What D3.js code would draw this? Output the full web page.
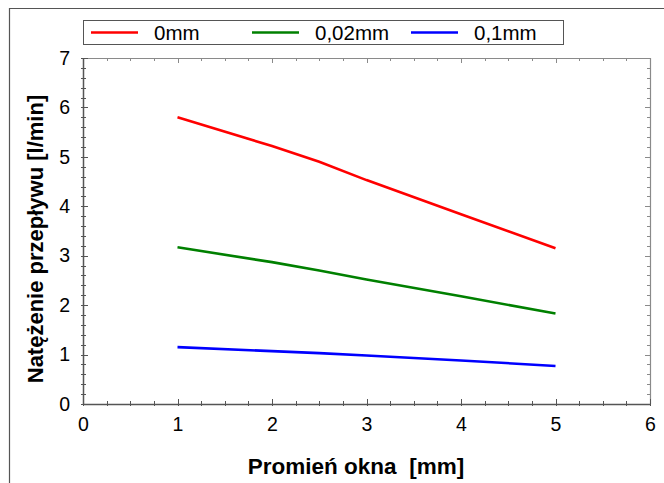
<!DOCTYPE html>
<html><head><meta charset="utf-8">
<script src="https://cdn.jsdelivr.net/npm/d3@7"></script>
<style>body{margin:0;background:#fff}svg{display:block;font-family:"Liberation Sans",Arial,sans-serif}</style>
</head><body>
<script>
const xValues = [1, 2, 2.5, 3, 4, 5];
const series0mm = [5.80, 5.22, 4.90, 4.53, 3.84, 3.15];
const series002mm = [3.17, 2.87, 2.70, 2.52, 2.18, 1.83];
const series01mm = [1.15, 1.07, 1.03, 0.98, 0.88, 0.77];
const seriesNames = ["0mm", "0,02mm", "0,1mm"];
const seriesColors = ["#ff0000", "#008000", "#0000ff"];
const xTicks = [0, 1, 2, 3, 4, 5, 6];
const yTicks = [0, 1, 2, 3, 4, 5, 6, 7];
const xTitle = "Promień okna  [mm]";
const yTitle = "Natężenie przepływu [l/min]";

const W = 664, H = 483;
const m = {l: 83, r: 650, t: 58, b: 404};
const svg = d3.select("body").append("svg").attr("width", W).attr("height", H);

// outer frame
svg.append("path").attr("d", `M9.5,${H+2}V8.5H${W+2}`).attr("fill","none").attr("stroke","#555").attr("stroke-width",1.2);

const x = d3.scaleLinear().domain([0, 6]).range([m.l, m.r]);
const y = d3.scaleLinear().domain([0, 7]).range([m.b, m.t]);

const axisCol = "#555";
// box
svg.append("line").attr("x1", m.l).attr("x2", m.r).attr("y1", m.t+0.5).attr("y2", m.t+0.5).attr("stroke","#8a8a8a").attr("stroke-width",1.2);
svg.append("line").attr("x1", m.r+0.5).attr("x2", m.r+0.5).attr("y1", m.t).attr("y2", m.b).attr("stroke","#8a8a8a").attr("stroke-width",1.2);

// minor ticks
const xMinor = d3.range(0, 6.001, 0.25);
const yMinor = d3.range(0, 7.001, 0.2);
const tg = svg.append("g").attr("stroke", axisCol).attr("stroke-width", 1);
xMinor.forEach(v => {
  const major = Math.abs(v - Math.round(v)) < 1e-6;
  const px = Math.round(x(v)) + 0.5;
  tg.append("line").attr("x1", px).attr("x2", px).attr("y1", m.b + 2).attr("y2", m.b - (major ? 5 : 3));
  tg.append("line").attr("x1", px).attr("x2", px).attr("y1", m.t).attr("y2", m.t + (major ? 5 : 3)).attr("stroke","#8a8a8a");
});
yMinor.forEach(v => {
  const major = Math.abs(v - Math.round(v)) < 1e-6;
  const py = Math.round(y(v)) + 0.5;
  tg.append("line").attr("y1", py).attr("y2", py).attr("x1", m.l - 2).attr("x2", m.l + (major ? 5 : 3));
  tg.append("line").attr("y1", py).attr("y2", py).attr("x1", m.r).attr("x2", m.r - (major ? 5 : 3)).attr("stroke","#8a8a8a");
});

// axes via d3
const xAxis = d3.axisBottom(x).tickValues(xTicks).tickSize(0).tickPadding(13).tickFormat(d3.format("d"));
const gx = svg.append("g").attr("transform", `translate(0,${m.b})`).call(xAxis);
gx.select(".domain").attr("stroke", axisCol).attr("stroke-width", 1.5);
gx.selectAll("text").attr("font-size", 19.5).attr("fill", "#000").attr("font-family", "Liberation Sans, Arial, sans-serif");

const yAxis = d3.axisLeft(y).tickValues(yTicks).tickSize(0).tickPadding(13).tickFormat(d3.format("d"));
const gy = svg.append("g").attr("transform", `translate(${m.l},0)`).call(yAxis);
gy.select(".domain").attr("stroke", axisCol).attr("stroke-width", 1.5);
gy.selectAll("text").attr("font-size", 19.5).attr("fill", "#000").attr("font-family", "Liberation Sans, Arial, sans-serif");

// titles
svg.append("text").attr("x", 356).attr("y", 474).attr("text-anchor", "middle")
  .attr("font-weight", "bold").attr("font-size", 22.5).text(xTitle).style("white-space","pre").attr("xml:space","preserve");
svg.append("text").attr("transform", `translate(43,239) rotate(-90)`).attr("text-anchor", "middle")
  .attr("font-weight", "bold").attr("font-size", 22).text(yTitle);

// lines
const allSeries = [series0mm, series002mm, series01mm];
const line = d3.line().x((d, i) => x(xValues[i])).y(d => y(d));
allSeries.forEach((s, i) => {
  svg.append("path").datum(s).attr("d", line).attr("fill", "none")
    .attr("stroke", seriesColors[i]).attr("stroke-width", 2.6);
});

// legend
const lg = svg.append("g");
lg.append("rect").attr("x", 83.5).attr("y", 20.5).attr("width", 480).attr("height", 24)
  .attr("fill", "#fff").attr("stroke", "#555").attr("stroke-width", 1);
const legX = [91, 252, 411];
seriesNames.forEach((n, i) => {
  lg.append("line").attr("x1", legX[i]).attr("x2", legX[i] + 47).attr("y1", 32.5).attr("y2", 32.5)
    .attr("stroke", seriesColors[i]).attr("stroke-width", 2.6);
  lg.append("text").attr("x", legX[i] + 63).attr("y", 40).attr("font-size", 20.5).text(n);
});
</script>
</body></html>
